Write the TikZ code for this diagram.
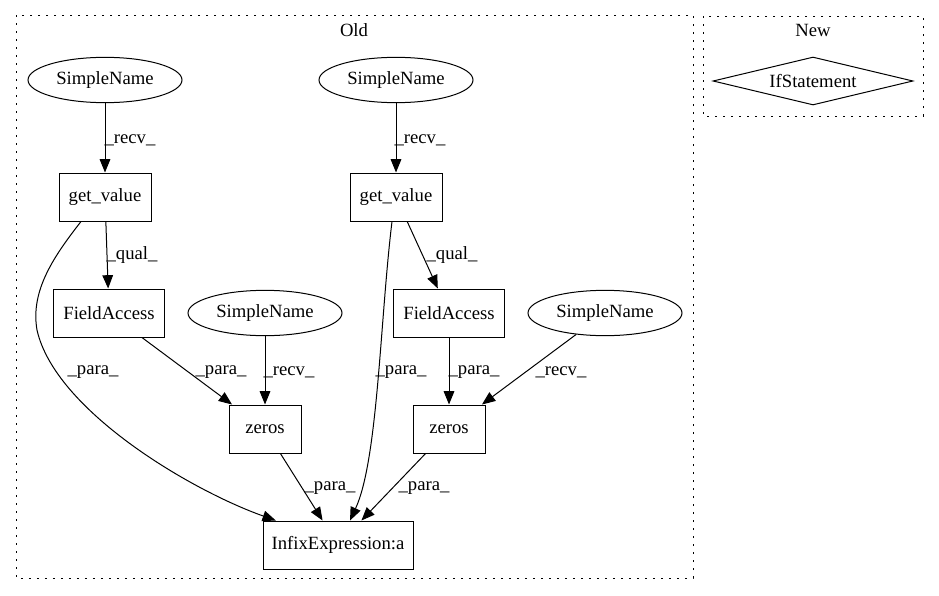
\documentclass[tikz,border=0pt]{standalone}
\usepackage{fontspec}
\setmainfont{Liberation Serif}
\usetikzlibrary{shapes.geometric,arrows.meta}

\begin{document}
\begin{tikzpicture}[x=.75pt,y=-.75pt,line width=.75pt,
    font=\fontsize{14}{16}\selectfont,
    nm/.style={ellipse,draw,minimum width=115.5pt,minimum height=34pt,inner sep=0pt},
    op/.style={rectangle,draw,minimum height=36pt,inner sep=0pt},
    cond/.style={diamond,draw,aspect=4,minimum width=150pt,minimum height=36pt,inner sep=0pt},
    lbl/.style={inner sep=0pt},
    edge/.style={-{Triangle[length=10pt,width=8pt]}},
    clus/.style={dash pattern=on 1.2pt off 4.8pt}]
          \useasboundingbox (0,0) rectangle (939,596);

          %%    % clusters
          \draw[clus] (16,15) rectangle (693,578);
          \draw[clus] (703,16) rectangle (923,116);
          \node (old) at (354,30) {Old};
          \node (new) at (813,30) {New};

          %%    % Old
          \node[nm] (sn1) at (105,80) {SimpleName};
          \node[nm] (sn2) at (396,80) {SimpleName};
          \node[op,minimum width=69pt] (gv1) at (105,197) {get\_value};
          \node[op,minimum width=69pt] (gv2) at (396,197) {get\_value};
          \node[op,minimum width=83pt] (fa1) at (109,313) {FieldAccess};
          \node[nm] (sn3) at (265,313) {SimpleName};
          \node[op,minimum width=83pt] (fa2) at (449,313) {FieldAccess};
          \node[nm] (sn4) at (605,313) {SimpleName};
          \node[op,minimum width=54pt] (z1) at (265,429) {zeros};
          \node[op,minimum width=54pt] (z2) at (449,429) {zeros};
          \node[op,minimum width=112.5pt] (inf) at (338,545) {InfixExpression:a};

          \foreach \a/\b in {sn1/gv1,sn2/gv2,gv1/fa1,gv2/fa2,fa1/z1,sn3/z1,fa2/z2,sn4/z2,z1/inf,z2/inf} {
            \draw[edge] (\a) -- (\b);
          }
          \draw[edge] ([xshift=-18pt]gv1.south) .. controls (55,255) and (30,290) .. (37,330)
            .. controls (55,410) and (190,490) .. ([xshift=10pt]inf.north west);
          \draw[edge] ([xshift=-3pt]gv2.south) .. controls (380,320) and (378,460) .. ([xshift=9pt]inf.north);

          \foreach \i/\x/\y/\t in {1/130/140/recv,2/420/140/recv,3/132/255/qual,4/452/255/qual,
              5/93/372/para,6/221/372/para,7/289/372/recv,8/401/372/para,9/474/372/para,
              10/561/372/recv,11/330/488/para,12/424/488/para} {
            \node[lbl] (lab\i) at (\x,\y) {\_\t\_};
          }

          %%    % New
          \node[cond] (ifs) at (813,81) {IfStatement};
\end{tikzpicture}
\end{document}
